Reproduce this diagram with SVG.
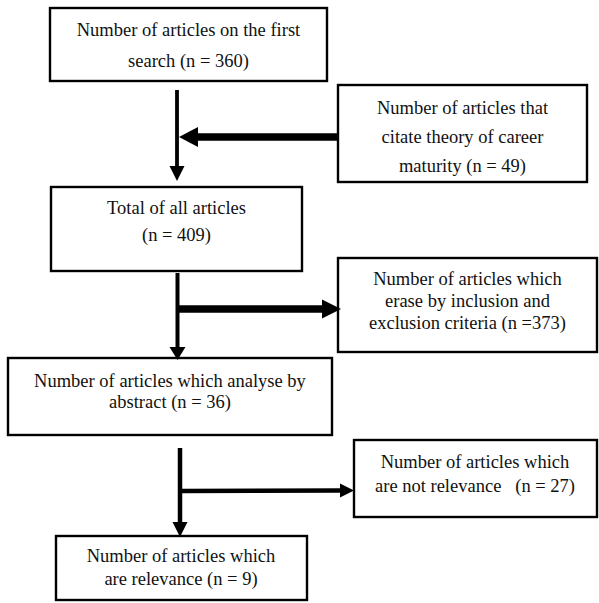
<svg xmlns="http://www.w3.org/2000/svg" width="599" height="603" viewBox="0 0 599 603">
<style>
.box{fill:#fff;stroke:#000;stroke-width:2.4}
.t{font-family:"Liberation Serif","Times New Roman",serif;font-size:18.5px;fill:#111;text-anchor:middle;white-space:pre}
.ln{stroke:#000;fill:none}
.hd{fill:#000}
</style>
<rect width="599" height="603" fill="#fff"/>
<g id="n1"><rect class="box" x="50" y="8" width="277" height="73"/>
<text class="t" x="188.5" y="36">Number of articles on the first</text>
<text class="t" x="188.5" y="67">search (n = 360)</text></g>
<g id="n2"><rect class="box" x="338" y="85" width="249" height="97"/>
<text class="t" x="462.5" y="114">Number of articles that</text>
<text class="t" x="462.5" y="143">citate theory of career</text>
<text class="t" x="462.5" y="172">maturity (n = 49)</text></g>
<g id="n3"><rect class="box" x="51" y="187" width="251" height="84"/>
<text class="t" x="176.5" y="214">Total of all articles</text>
<text class="t" x="176.5" y="241">(n = 409)</text></g>
<g id="n4"><rect class="box" x="338" y="258" width="259" height="94"/>
<text class="t" x="467.5" y="285">Number of articles which</text>
<text class="t" x="467.5" y="307">erase by inclusion and</text>
<text class="t" x="467.5" y="329">exclusion criteria (n =373)</text></g>
<g id="n5"><rect class="box" x="8" y="358" width="324" height="77"/>
<text class="t" x="170" y="387">Number of articles which analyse by</text>
<text class="t" x="170" y="408">abstract (n = 36)</text></g>
<g id="n6"><rect class="box" x="354" y="440" width="243" height="77"/>
<text class="t" x="475" y="468">Number of articles which</text>
<text class="t" x="475" y="492">are not relevance   (n = 27)</text></g>
<g id="n7"><rect class="box" x="56" y="536" width="251" height="64"/>
<text class="t" x="181" y="562">Number of articles which</text>
<text class="t" x="181" y="585">are relevance (n = 9)</text></g>
<g id="connectors">
<line class="ln" x1="177" y1="90" x2="177" y2="167" stroke-width="3.8"/>
<polygon class="hd" points="169.5,166 184.5,166 177,181"/>
<line class="ln" x1="338" y1="137" x2="196" y2="137" stroke-width="7.5"/>
<polygon class="hd" points="198,127 198,147 179,137"/>
<line class="ln" x1="177.5" y1="273" x2="177.5" y2="348" stroke-width="4"/>
<polygon class="hd" points="169.5,347 185.5,347 177.5,360"/>
<line class="ln" x1="179" y1="309" x2="324" y2="309" stroke-width="7.5"/>
<polygon class="hd" points="322,299.5 322,318.5 341,309"/>
<line class="ln" x1="180" y1="448" x2="180" y2="523" stroke-width="4.5"/>
<polygon class="hd" points="172.5,522 187.5,522 180,537"/>
<line class="ln" x1="182" y1="491" x2="341" y2="490.5" stroke-width="4.5"/>
<polygon class="hd" points="340,483.5 340,497.5 354,490.5"/>
</g>
</svg>
